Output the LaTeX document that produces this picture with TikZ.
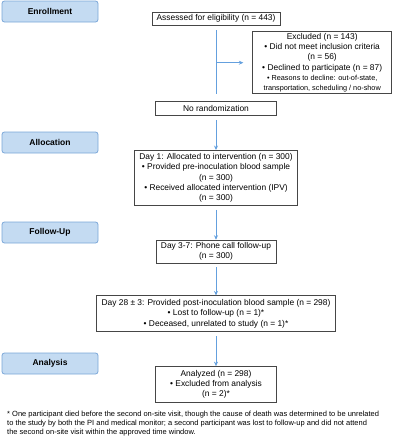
\documentclass[tikz,border=0pt]{standalone}
\usepackage{fontspec}
\setmainfont{Liberation Sans}
\usetikzlibrary{arrows.meta, positioning}
\definecolor{phaseFill}{RGB}{196, 219, 242}
\definecolor{phaseDraw}{RGB}{122, 166, 216}
\definecolor{linkBlue}{RGB}{100, 160, 222}
\definecolor{boxGray}{RGB}{70, 70, 70}
\tikzset{
    phase/.style={rectangle, rounded corners=2.5pt, draw=phaseDraw, fill=phaseFill, line width=0.8pt, minimum width=96pt, minimum height=21pt, font=\bfseries\fontsize{8.5}{10}\selectfont},
    flowbox/.style={rectangle, draw=boxGray, line width=0.7pt, fill=white, align=center, inner sep=1pt, font=\fontsize{8.4}{10.3}\selectfont},
    link/.style={draw=linkBlue, line width=0.8pt, shorten <=4pt},
    arrow/.style={link, -{Stealth[length=4.5pt, width=4pt]}}
}
\newcommand{\smalltxt}{\fontsize{7.3}{8.6}\selectfont}

\begin{document}
\begin{tikzpicture}[x=1pt, y=-1pt]
    \useasboundingbox (0,0) rectangle (402,440);

    % Phase labels
    \node (enroll) [phase] at (50,11.5) {Enrollment};
    \node (alloc) [phase] at (50,142.5) {Allocation};
    \node (follow) [phase] at (50,232.5) {Follow-Up};
    \node (analysis) [phase] at (50,363.5) {Analysis};

    % Flow
    \node (assess) [flowbox, minimum width=128pt, minimum height=13pt] at (216,18.5) {Assessed for eligibility (n = 443)};

    \node (excl) [flowbox, below right=6pt and -28pt of assess, minimum width=139pt, minimum height=62pt] {
        Excluded (n = 143) \\
        • Did not meet inclusion criteria \\
        (n = 56) \\
        • Declined to participate (n = 87) \\
        {\smalltxt • Reasons to decline: out-of-state,} \\
        {\smalltxt transportation, scheduling / no-show}
    };

    \node (norand) [flowbox, below=76pt of assess, minimum width=121pt, minimum height=14pt] {No randomization};

    \node (day1) [flowbox, below=34pt of norand, minimum width=163pt, minimum height=55pt] {
        Day 1: Allocated to intervention (n = 300) \\
        • Provided pre-inoculation blood sample \\
        (n = 300) \\
        • Received allocated intervention (IPV) \\
        (n = 300)
    };

    \node (day37) [flowbox, below=34pt of day1, minimum width=120pt, minimum height=23pt] {
        Day 3-7: Phone call follow-up \\
        (n = 300)
    };

    \node (day28) [flowbox, below=32pt of day37, minimum width=239pt, minimum height=36pt] {
        Day 28 ± 3: Provided post-inoculation blood sample (n = 298) \\
        • Lost to follow-up (n = 1)* \\
        • Deceased, unrelated to study (n = 1)*
    };

    \node (analyzed) [flowbox, below=34pt of day28, minimum width=121pt, minimum height=36pt] {
        Analyzed (n = 298) \\
        • Excluded from analysis \\
        (n = 2)*
    };

    % Footnote
    \node (note) [anchor=north west, align=left, inner sep=0pt, font=\fontsize{7.5}{9}\selectfont] at (7,411) {
        * One participant died before the second on-site visit, though the cause of death was determined to be unrelated \\
        to the study by both the PI and medical monitor; a second participant was lost to follow-up and did not attend \\
        the second on-site visit within the approved time window.
    };

    % Connecting
    \draw [link, shorten <=5pt, shorten >=7pt] (assess) -- (norand);
    \draw [arrow, shorten <=0pt, shorten >=9pt] (assess.south |- excl.west) -- (excl.west);
    \draw [arrow] (norand) -- (day1);
    \draw [arrow] (day1) -- (day37);
    \draw [arrow] (day37) -- (day28);
    \draw [arrow] (day28) -- (analyzed);

\end{tikzpicture}
\end{document}
